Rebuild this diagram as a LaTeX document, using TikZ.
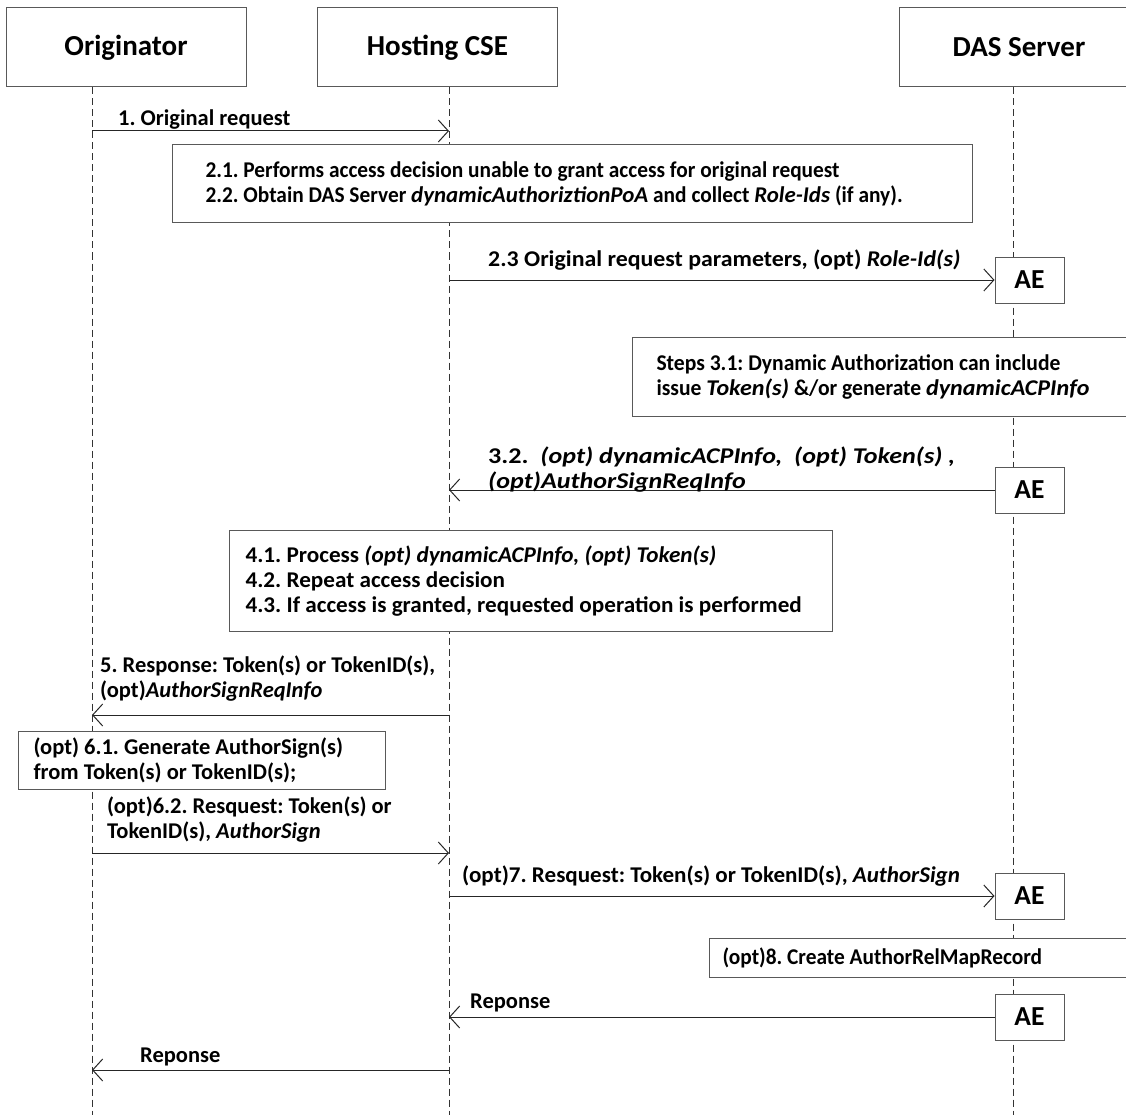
\documentclass[tikz,border=0pt]{standalone}
\usepackage{fontspec}
\setmainfont{Carlito}
\newfontfamily\fsA{Carlito}[FakeStretch=0.95, BoldItalicFeatures={FakeStretch=1.02}]
\newfontfamily\fsB{Carlito}[FakeStretch=0.96, BoldItalicFeatures={FakeStretch=1.07}]
\newfontfamily\fsC{Carlito}[FakeStretch=0.95]
\newfontfamily\fsD{Carlito}[FakeStretch=1.06]
\newfontfamily\fsE{Carlito}[FakeStretch=1.16]
\newfontfamily\fsF{Carlito}[FakeStretch=1.025]
\newfontfamily\fsG{Carlito}[FakeStretch=1.03]
\usetikzlibrary{arrows.meta}
\newcommand\hdrfont{\fontsize{29}{34}\selectfont\bfseries}
\newcommand\aefont{\fontsize{27.5}{32}\selectfont\bfseries}
\newcommand\lblfont{\fontsize{22.5}{25}\selectfont\bfseries}
\newcommand\natsp{\spaceskip=0pt\xspaceskip=0pt\relax}
\tikzset{
  lifeline/.style={draw=black!80, line width=0.9pt, dash pattern=on 7pt off 4pt},
  actor/.style={draw=black!65, line width=1pt, fill=white, minimum width=240pt, minimum height=79pt, font=\hdrfont, inner sep=0pt},
  aebox/.style={draw=black!65, line width=1pt, fill=white, minimum width=69pt, minimum height=46pt, font=\aefont, inner sep=0pt},
  note/.style={draw=black!65, line width=1pt, fill=white, align=left, anchor=north west, inner ysep=0pt, font=\lblfont},
  msg/.style={draw=black!85, line width=1pt, -{Straight Barb[length=10pt,width=22pt]}},
  lbl/.style={font=\lblfont, inner sep=0pt, align=left, anchor=west}
}
\begin{document}
\frenchspacing
\begin{tikzpicture}[x=1pt,y=-1pt]
\clip (0,0) rectangle (1126,1115);
\fill[white] (0,0) rectangle (1126,1115);
% actors
\node[actor] (orig) at (126,47.5) {Originator};
\node[actor] (host) at (437.5,47.5) {Hosting CSE};
\node[actor] (das) at (1019,47.5) {DAS Server};
% lifelines
\coordinate (oL) at (92,1115);
\coordinate (hL) at (449,1115);
\coordinate (dL) at (1013,1115);
\draw[lifeline] (oL |- orig.south) -- (oL);
\draw[lifeline] (hL |- host.south) -- (hL);
\draw[lifeline] (dL |- das.south) -- (dL);
% 1
\coordinate (o1) at (92,131);
\coordinate (h1) at (449,131);
\draw[msg] (o1) -- (h1);
\node[lbl] (l1) at (118,120) {1. Original request};
% 2
\node[note, text width=734pt, inner xsep=33pt, minimum height=78pt, font={\fsA\lblfont}] (n2) at (172,144)
 {\natsp\fontsize{22.5}{29}\selectfont 2.1. Performs access decision unable to grant access for original request\\
  2.2. Obtain DAS Server \textit{dynamicAuthoriztionPoA} and collect \textit{Role-Ids} (if any).};
\node[aebox] (ae1) at (1029.5,280) {AE};
\coordinate (h2) at (449,280);
\draw[msg] (h2) -- (ae1.west);
\node[lbl, font={\fsD\lblfont}] (l23) at (488,260) {2.3 Original request parameters, (opt) \textit{Role-Id(s)}};
% 3
\node[note, text width=472pt, inner xsep=24pt, minimum height=79pt, font={\fsB\lblfont}] (n31) at (632,337)
 {\natsp Steps 3.1: Dynamic Authorization can include\\
  issue \textit{Token(s)} \&/or generate \textit{dynamicACPInfo}};
\node[aebox] (ae2) at (1029.5,490) {AE};
\coordinate (h3) at (449,490);
\draw[msg] (ae2.west) -- (h3);
\node[lbl, font={\fsE\lblfont}] (l32) at (488,470) {3.2.~~\textit{(opt) dynamicACPInfo,~~(opt) Token(s) ,}\\
  \textit{(opt)AuthorSignReqInfo}};
% 4
\node[note, text width=571pt, inner xsep=16pt, minimum height=101pt, font={\fsG\lblfont}] (n4) at (229,530)
 {\natsp 4.1. Process \textit{(opt) dynamicACPInfo, (opt) Token(s)}\\
  4.2. Repeat access decision\\
  4.3. If access is granted, requested operation is performed};
% 5
\coordinate (h5) at (449,715);
\coordinate (o5) at (92,715);
\draw[msg] (h5) -- (o5);
\node[lbl] (l5) at (100,679) {5. Response: Token(s) or TokenID(s),\\
  (opt)\textit{AuthorSignReqInfo}};
% 6
\node[note, text width=337pt, inner xsep=15pt, minimum height=58pt] (n61) at (18,731)
 {\natsp (opt) 6.1. Generate AuthorSign(s)\\
  from Token(s) or TokenID(s);};
\coordinate (o6) at (92,853);
\coordinate (h6) at (449,853);
\draw[msg] (o6) -- (h6);
\node[lbl] (l62) at (107,820) {(opt)6.2. Resquest: Token(s) or\\
  TokenID(s), \textit{AuthorSign}};
% 7
\node[aebox] (ae3) at (1029.5,896) {AE};
\coordinate (h7) at (449,896);
\draw[msg] (h7) -- (ae3.west);
\node[lbl, font={\fsF\lblfont}] (l7) at (462,876) {(opt)7. Resquest: Token(s) or TokenID(s), \textit{AuthorSign}};
% 8
\node[note, text width=424pt, inner xsep=13pt, minimum height=39pt, font={\fsC\lblfont}] (n8) at (709,938)
 {\natsp (opt)8. Create AuthorRelMapRecord};
\node[aebox] (ae4) at (1029.5,1017) {AE};
\coordinate (h9) at (449,1017);
\draw[msg] (ae4.west) -- (h9);
\node[lbl] (lr1) at (470,1003) {Reponse};
% final
\coordinate (h10) at (449,1070);
\coordinate (o10) at (92,1070);
\draw[msg] (h10) -- (o10);
\node[lbl] (lr2) at (140,1057) {Reponse};
\end{tikzpicture}
\end{document}
